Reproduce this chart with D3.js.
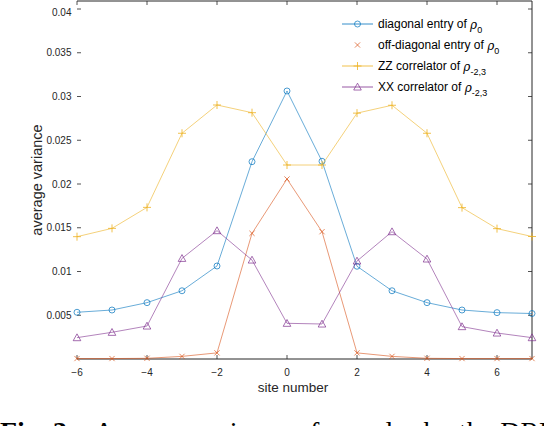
<!DOCTYPE html>
<html><head><meta charset="utf-8">
<script src="https://cdn.jsdelivr.net/npm/d3@7"></script>
<style>body{margin:0;background:#fff}svg{display:block}</style>
</head><body>
<svg id="c" width="544" height="426"></svg>
<script>
const sites = [-6,-5,-4,-3,-2,-1,0,1,2,3,4,5,6,7];
const diagonal = [0.00534,0.0056,0.00644,0.0078,0.01063,0.02255,0.03063,0.0226,0.0106,0.0078,0.00644,0.0056,0.0053,0.0052];
const offDiagonal = [0.00005,0.00005,0.00008,0.0003,0.0007,0.01436,0.02057,0.01455,0.0007,0.0003,0.00008,0.00005,0.00005,0.00005];
const zzCorr = [0.01398,0.01493,0.01733,0.0258,0.02903,0.02815,0.02217,0.02217,0.0281,0.029,0.0258,0.0173,0.0149,0.014];
const xxCorr = [0.00244,0.00305,0.00377,0.0115,0.01467,0.01131,0.00408,0.004,0.0112,0.01455,0.01143,0.0037,0.00297,0.00244];
const xTicks = [-6,-4,-2,0,2,4,6];
const yTicks = [0.005,0.01,0.015,0.02,0.025,0.03,0.035,0.04];
const seriesNames = ["diagonal entry of ", "off-diagonal entry of ", "ZZ correlator of ", "XX correlator of "];
const seriesSubs = ["0","0","-2,3","-2,3"];
const colors = ["#0072BD","#D95319","#EDB120","#7E2F8E"];
const symbols = ["circle","x","plus","triangle"];
const captionBold = "Fig. 3:";
const captionRest = "Average variance of samples by the DRM";

const svg = d3.select("#c");
const x = d3.scaleLinear().domain([-6,7]).range([77,532]);
const y = d3.scaleLinear().domain([0,0.04]).range([359,9]);
const topY = 1;
const font = "'Liberation Sans', Arial, Helvetica, sans-serif";
const axisCol = "#262626";

// frame: bottom, right, top
svg.append("line").attr("x1",x(-6)).attr("x2",x(7)).attr("y1",y(0)).attr("y2",y(0)).attr("stroke",axisCol).attr("stroke-width",1);
svg.append("line").attr("x1",x(7)).attr("x2",x(7)).attr("y1",topY).attr("y2",y(0)).attr("stroke",axisCol).attr("stroke-width",1);
svg.append("line").attr("x1",x(-6)).attr("x2",x(7)).attr("y1",topY).attr("y2",topY).attr("stroke",axisCol).attr("stroke-width",1);

// x ticks
const tl = 4;
xTicks.forEach(t=>{
  svg.append("line").attr("x1",x(t)).attr("x2",x(t)).attr("y1",y(0)).attr("y2",y(0)-tl).attr("stroke",axisCol).attr("stroke-width",0.8);
  svg.append("line").attr("x1",x(t)).attr("x2",x(t)).attr("y1",topY).attr("y2",topY+tl).attr("stroke",axisCol).attr("stroke-width",0.8);
  svg.append("text").attr("x",x(t)).attr("y",372).attr("dy","0.35em").attr("text-anchor","middle")
    .attr("font-family",font).attr("font-size",10).attr("fill",axisCol).text(t<0?"\u2212"+(-t):t);
});
// y ticks
yTicks.forEach(t=>{
  svg.append("line").attr("x1",x(-6)).attr("x2",x(-6)+tl).attr("y1",y(t)).attr("y2",y(t)).attr("stroke",axisCol).attr("stroke-width",0.8);
  svg.append("line").attr("x1",x(7)).attr("x2",x(7)-tl).attr("y1",y(t)).attr("y2",y(t)).attr("stroke",axisCol).attr("stroke-width",0.8);
  svg.append("text").attr("x",71.5).attr("y",Math.max(y(t),12)).attr("dy","0.35em").attr("text-anchor","end")
    .attr("font-family",font).attr("font-size",10).attr("fill",axisCol).text(String(t));
});

// axis labels
svg.append("text").attr("x",293).attr("y",387).attr("dy","0.35em").attr("text-anchor","middle")
  .attr("font-family",font).attr("font-size",13.5).attr("fill",axisCol).text("site number");
svg.append("text").attr("transform","translate(37,180) rotate(-90)").attr("dy","0.35em").attr("text-anchor","middle")
  .attr("font-family",font).attr("font-size",14.5).attr("fill",axisCol).text("average variance");

function marker(g, type, cx, cy, col){
  if(type==="circle"){
    g.append("circle").attr("cx",cx).attr("cy",cy).attr("r",3).attr("fill","none").attr("stroke",col).attr("stroke-width",0.7);
  } else if(type==="x"){
    const s=2.6;
    g.append("path").attr("d",`M${cx-s},${cy-s}L${cx+s},${cy+s}M${cx-s},${cy+s}L${cx+s},${cy-s}`).attr("stroke",col).attr("stroke-width",0.7).attr("fill","none");
  } else if(type==="plus"){
    const s=4;
    g.append("path").attr("d",`M${cx-s},${cy}L${cx+s},${cy}M${cx},${cy-s}L${cx},${cy+s}`).attr("stroke",col).attr("stroke-width",0.8).attr("fill","none");
  } else {
    const s=3.8;
    g.append("path").attr("d",`M${cx},${cy-s}L${cx+s},${cy+s*0.8}L${cx-s},${cy+s*0.8}Z`).attr("stroke",col).attr("stroke-width",0.7).attr("fill","none");
  }
}

const allSeries = [diagonal, offDiagonal, zzCorr, xxCorr];
const line = d3.line().x((d,i)=>x(sites[i])).y(d=>y(d));
allSeries.forEach((vals,k)=>{
  const g = svg.append("g");
  g.append("path").attr("d",line(vals)).attr("fill","none").attr("stroke",colors[k]).attr("stroke-width",0.7).attr("opacity",0.85);
  vals.forEach((v,i)=>marker(g,symbols[k],x(sites[i]),y(v),colors[k]));
});

// legend
const lg = svg.append("g");
const rowsY = [24,45,66,87];
seriesNames.forEach((name,k)=>{
  const ly = rowsY[k];
  if(k!==1) lg.append("line").attr("x1",342).attr("x2",373).attr("y1",ly).attr("y2",ly).attr("stroke",colors[k]).attr("stroke-width",0.8);
  marker(lg,symbols[k],357.5,ly,colors[k]);
  const t = lg.append("text").attr("x",378).attr("y",ly).attr("dy","0.35em")
    .attr("font-family",font).attr("font-size",12).attr("fill","#000");
  t.append("tspan").text(name);
  t.append("tspan").attr("font-family","'DejaVu Serif', serif").attr("font-style","italic").attr("font-size",12).attr("dy",1).text("\u03C1");
  t.append("tspan").attr("font-size",9).attr("dy",4).text(seriesSubs[k]);
});

// caption (cut off at the bottom edge, as in the reference)
const capFont = "'Liberation Serif','Times New Roman',serif";
svg.append("text").attr("x",0).attr("y",441).attr("font-family",capFont).attr("font-size",28).attr("font-weight","bold").attr("fill","#000").text(captionBold);
svg.append("text").attr("x",94).attr("y",441).attr("font-family",capFont).attr("font-size",28).attr("fill","#000")
  .attr("textLength",470).attr("lengthAdjust","spacing").text(captionRest);
</script>
</body></html>
